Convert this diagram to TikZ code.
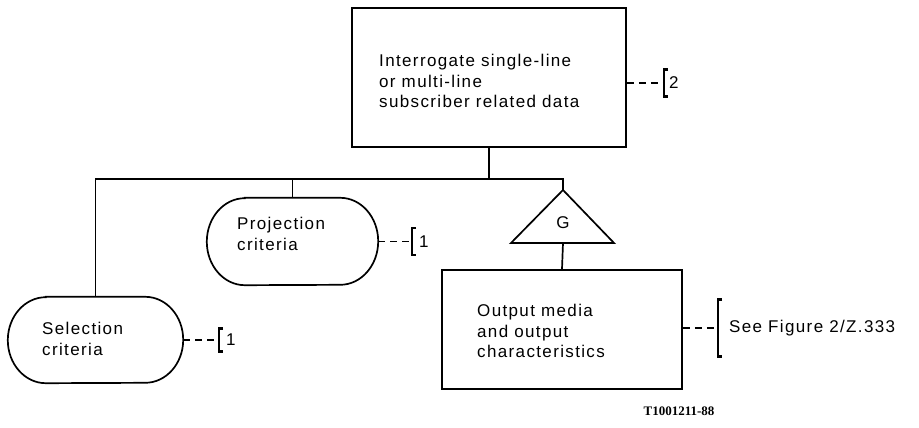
\documentclass[tikz,border=0pt]{standalone}
\usepackage{fontspec}
\setmainfont{Liberation Sans}[LetterSpace=8]
\newfontfamily\labelfont{Liberation Serif}
\usetikzlibrary{calc}
\tikzset{
  blk/.style={draw, line width=1.7pt, inner sep=0pt},
  hole/.style={draw=none, inner sep=0pt},
  txt/.style={font=\fontsize{17}{20.5}\selectfont, align=left, inner sep=0pt},
  lnk/.style={line width=1.7pt},
  dsh/.style={line width=1.7pt, dash pattern=on 7pt off 5pt},
  brk/.style={line width=2.5pt},
  outl/.style={line width=1.7pt}
}
\begin{document}
\begin{tikzpicture}[x=1pt,y=-1pt]
\fill[white] (0,0) rectangle (919,428);
\useasboundingbox (0,0) rectangle (919,428);

% top box
\node[blk, minimum width=274pt, minimum height=139pt] (top) at (489,77.5) {};
\node[txt, anchor=west] (toptxt) at (379,81) {Interrogate single-line\\or multi-line\\subscriber related data};

% projection criteria
\node[hole, minimum width=171pt, minimum height=87pt] (proj) at (292.5,241.5) {};
\draw[outl] ([xshift=38pt]proj.north west) -- ([xshift=-38pt]proj.north east)
  arc[start angle=90, end angle=-90, x radius=38pt, y radius=43.5pt]
  -- ([xshift=38pt]proj.south west)
  arc[start angle=270, end angle=90, x radius=38pt, y radius=43.5pt] -- cycle;
\node[txt, anchor=west] (projtxt) at (237,234) {Projection\\criteria};

% selection criteria
\node[hole, minimum width=175pt, minimum height=86pt] (sel) at (95.5,340) {};
\draw[outl] ([xshift=38pt]sel.north west) -- ([xshift=-38pt]sel.north east)
  arc[start angle=90, end angle=-90, x radius=38pt, y radius=43pt]
  -- ([xshift=38pt]sel.south west)
  arc[start angle=270, end angle=90, x radius=38pt, y radius=43pt] -- cycle;
\node[txt, anchor=west] (seltxt) at (42,339) {Selection\\criteria};

% triangle G
\coordinate (gapex) at (563,190);
\coordinate (gbase) at (563,243);
\coordinate (gleft) at (511,243);
\coordinate (gright) at (614,243);
\draw[outl, line join=miter] (gleft) -- (gapex) -- (gright) -- cycle;
\node[txt] (g) at (563,223) {G};

% output box
\node[blk, minimum width=240pt, minimum height=119pt] (out) at (562,329.5) {};
\node[txt, anchor=west] (outtxt) at (477,331) {Output media\\and output\\characteristics};

% tree connectors
\coordinate (bus) at (490,179);
\draw[lnk] (top.south) -- (top.south |- bus);
\draw[lnk] (sel.north) |- (gapex |- bus) -- (gapex);
\draw[lnk] (proj.north) -- (proj.north |- bus);
\draw[lnk] (gbase) -- (out.north);

% annotation: top box
\coordinate (b2) at (664,83);
\draw[dsh] ([yshift=-5.5pt]top.east) -- (b2);
\draw[brk] ($(b2)+(4,-13.5)$) -- ++(-4,0) -- ++(0,27) -- ++(4,0);
\node[txt, anchor=west] (n2) at (669,83) {2};

% annotation: projection
\coordinate (bp) at (412,241.5);
\draw[dsh] (proj.east) -- (bp);
\draw[brk] ($(bp)+(4,-13.5)$) -- ++(-4,0) -- ++(0,27) -- ++(4,0);
\node[txt, anchor=west] (np) at (419,242) {1};

% annotation: selection
\coordinate (bs) at (219,340);
\draw[dsh] (sel.east) -- (bs);
\draw[brk] ($(bs)+(4,-11.5)$) -- ++(-4,0) -- ++(0,23) -- ++(4,0);
\node[txt, anchor=west] (ns) at (226,340) {1};

% annotation: output box
\coordinate (bo) at (718,328);
\draw[dsh] (out.east |- bo) -- (bo);
\draw[brk] ($(bo)+(4,-28.5)$) -- ++(-4,0) -- ++(0,57) -- ++(4,0);
\node[txt, anchor=west] (no) at (729,328) {See Figure 2/Z.333};

% figure tag
\node[font=\labelfont\bfseries\fontsize{13}{15}\selectfont, inner sep=0pt] (tag) at (679,411) {T1001211-88};
\end{tikzpicture}
\end{document}
